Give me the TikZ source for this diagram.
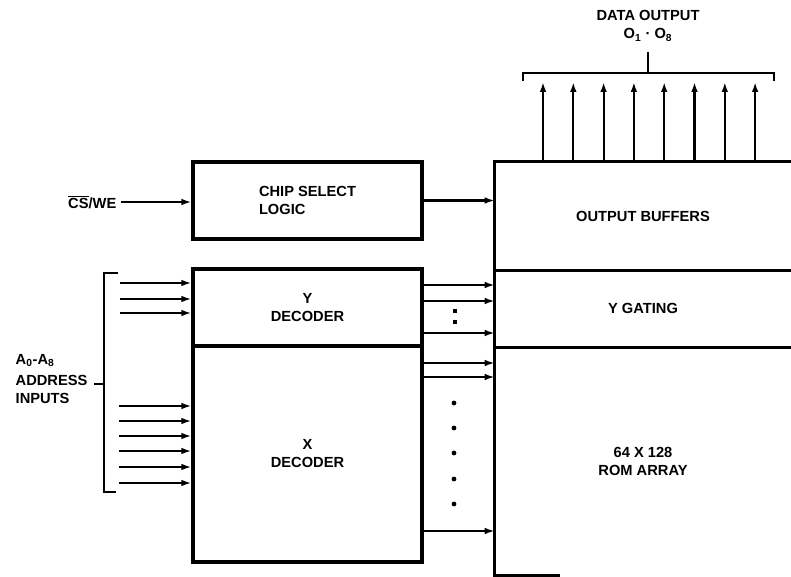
\documentclass[tikz,border=0pt]{standalone}
\usepackage{fontspec}
\setmainfont{Liberation Sans}
\usetikzlibrary{arrows.meta, positioning}

\begin{document}
\begin{tikzpicture}[
   x=0.75pt, y=-0.75pt,
   blk/.style = {draw, line width=2.4pt},
   sig/.style = {line width=1.6pt, -{Latex[length=7.5pt, width=5pt]}},
   lbl/.style = {font=\bfseries\fontsize{11}{13.5}\selectfont, align=center}]
   \useasboundingbox (0,0) rectangle (791,577);

   \node[blk, lbl, align=left, minimum width=171.75pt, minimum height=57.75pt] (chip) at (307.5,200.5) {CHIP SELECT\\LOGIC};
   \node[blk, lbl, minimum width=171.75pt, minimum height=57.75pt] (ydec) at (307.5,307.5) {Y\\DECODER};
   \node[blk, lbl, minimum width=171.75pt, minimum height=162pt] (xdec) at (307.5,454) {X\\DECODER};

   \node[lbl, minimum width=222pt, minimum height=81pt] (obuf) at (643,216) {OUTPUT BUFFERS};
   \node[lbl, minimum width=222pt, minimum height=57.75pt] (ygate) at (643,308.5) {Y GATING};
   \node[lbl, minimum width=222pt, minimum height=171pt] (rom) at (643,461) {64 X 128\\ROM ARRAY};
   \draw[blk] (obuf.north east) -- (obuf.north west) -- (rom.south west) -- ++(65,0);
   \draw[blk] (obuf.south west) -- (obuf.south east);
   \draw[blk] (ygate.south west) -- (ygate.south east);

   \node[lbl, anchor=east] (cs) at (121,202) {$\overline{\mbox{CS}}$/WE};
   \draw[sig] (cs.east) -- (cs.east -| chip.west);
   \draw[sig] (chip.east) -- (chip.east -| obuf.west);

   \node[lbl, align=left, anchor=west] (addr) at (11,379) {A\textsubscript{0}-A\textsubscript{8}\\[2pt]ADDRESS\\INPUTS};
   \coordinate (br) at (104,384);
   \draw[line width=1.6pt] (118,273) -- (br |- 0,273) -- (br |- 0,492) -- (116,492);
   \draw[line width=1.6pt] (br) -- ++(-10,0);
   \foreach \y in {283,299,313} {
      \coordinate (a) at (120,\y);
      \draw[sig] (a) -- (a -| ydec.west);
   }
   \foreach \y in {406,421,436,451,467,483} {
      \coordinate (a) at (119,\y);
      \draw[sig] (a) -- (a -| xdec.west);
   }

   \foreach \y in {285,301,333}
      \draw[sig] (ydec.east |- 0,\y) -- (ygate.west |- 0,\y);
   \foreach \y in {363,377,531}
      \draw[sig] (xdec.east |- 0,\y) -- (rom.west |- 0,\y);
   \foreach \y in {311,322}
      \fill (453,\y-2) rectangle ++(4,4);
   \foreach \y in {403,428,453,479,504}
      \fill (454,\y) circle (1.8pt);

   \foreach \i in {0,...,7} {
      \pgfmathsetmacro\xo{543+30.3*\i}
      \draw[sig] (obuf.north -| \xo,0) -- (\xo,82);
   }
   \node[lbl] (dout) at (648,26) {DATA OUTPUT\\O\textsubscript{1} \textperiodcentered\ O\textsubscript{8}};
   \draw[line width=1.6pt] (523,81) -- (523,73) -- (774,73) -- (774,81);
   \draw[line width=1.6pt] (dout.south |- 0,52) -- (dout.south |- 0,73);
\end{tikzpicture}
\end{document}
